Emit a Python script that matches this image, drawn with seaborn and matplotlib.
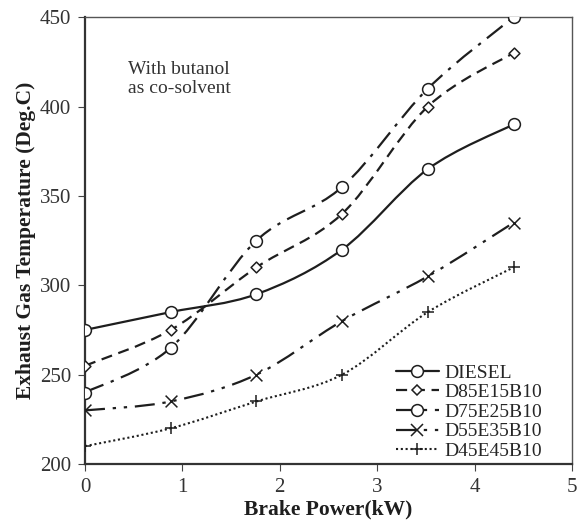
import numpy as np
import matplotlib
matplotlib.use("Agg")
import matplotlib.pyplot as plt
from matplotlib.path import Path
from matplotlib.patches import PathPatch
from matplotlib.lines import Line2D
import seaborn as sns

# data
power = [0, 0.88, 1.76, 2.64, 3.52, 4.4]
diesel = [275, 285, 295, 320, 365, 390]
d85e15b10 = [255, 275, 310, 340, 400, 430]
d75e25b10 = [240, 265, 325, 355, 410, 450]
d55e35b10 = [230, 235, 250, 280, 305, 335]
d45e45b10 = [210, 220, 235, 250, 285, 310]

labels = ["DIESEL", "D85E15B10", "D75E25B10", "D55E35B10", "D45E45B10"]
series = [diesel, d85e15b10, d75e25b10, d55e35b10, d45e45b10]
markers = ["o", "D", "o", "x", "+"]
msizes = [8.5, 5.5, 8.5, 8.5, 9]
styles = ["-", (0, (5, 3)), (0, (9, 3.5, 1.5, 3.5)),
          (0, (9, 3.5, 1.5, 3.5, 1.5, 3.5)), (0, (1, 1.3))]
widths = [1.6, 1.6, 1.6, 1.6, 1.5]

sns.set_style("ticks")
plt.rcParams["font.family"] = ["Liberation Serif", "DejaVu Serif"]
ink = "#1e1e1e"


def smooth_path(xs, ys):
    # Excel-style smoothed line: cubic bezier through the points
    pts = np.column_stack([xs, ys]).astype(float)
    verts = [pts[0]]
    codes = [Path.MOVETO]
    n = len(pts)
    for i in range(n - 1):
        p0 = pts[max(i - 1, 0)]
        p1 = pts[i]
        p2 = pts[i + 1]
        p3 = pts[min(i + 2, n - 1)]
        c1 = p1 + (p2 - p0) / 6.0
        c2 = p2 - (p3 - p1) / 6.0
        verts += [c1, c2, p2]
        codes += [Path.CURVE4] * 3
    return Path(verts, codes)


fig = plt.figure(figsize=(5.77, 5.27), dpi=100)
ax = fig.add_axes([0.1473, 0.1195, 0.844, 0.848])

handles = []
for lab, ys, mk, ms, ls, lw in zip(labels, series, markers, msizes, styles, widths):
    patch = PathPatch(smooth_path(power, ys), facecolor="none", edgecolor=ink,
                      lw=lw, linestyle=ls, capstyle="butt", transform=ax.transData)
    ax.add_patch(patch)
    sns.scatterplot(x=power, y=ys, marker=mk, s=ms ** 2,
                    facecolors="white" if mk in ("o", "D") else ink,
                    edgecolors=ink, linewidths=1.1, ax=ax, zorder=3)
    handles.append(Line2D([], [], color=ink, lw=lw, linestyle=ls, marker=mk,
                          markersize=ms, markerfacecolor="white",
                          markeredgecolor=ink, markeredgewidth=1.1))

ax.set_xlim(0, 5)
ax.set_ylim(200, 450)
ax.set_xticks(range(0, 6))
ax.set_yticks(range(200, 451, 50))
ax.tick_params(labelsize=15, colors="#444444", labelcolor="#333333",
               direction="out", length=5, pad=5)
for sp in ax.spines.values():
    sp.set_visible(True)
    sp.set_color("#555555")
    sp.set_linewidth(1.0)
ax.spines["left"].set_color("#333333")
ax.spines["bottom"].set_color("#333333")
ax.spines["left"].set_linewidth(1.6)
ax.spines["bottom"].set_linewidth(1.6)

ax.set_xlabel("Brake Power(kW)", fontsize=15.5, fontweight="bold", color=ink, labelpad=2)
ax.set_ylabel("Exhaust Gas Temperature (Deg.C)", fontsize=15.5, fontweight="bold",
              color=ink, labelpad=3)

ax.text(0.44, 425.5, "With butanol\nas co-solvent", fontsize=14, color="#333333",
        va="top", ha="left", linespacing=1.15)

ax.legend(handles=handles, labels=labels, loc="lower right", frameon=False,
          fontsize=14, handlelength=2.2, handletextpad=0.3, labelspacing=0.1,
          bbox_to_anchor=(0.975, -0.03))

fig.savefig("out.png", dpi=100)
